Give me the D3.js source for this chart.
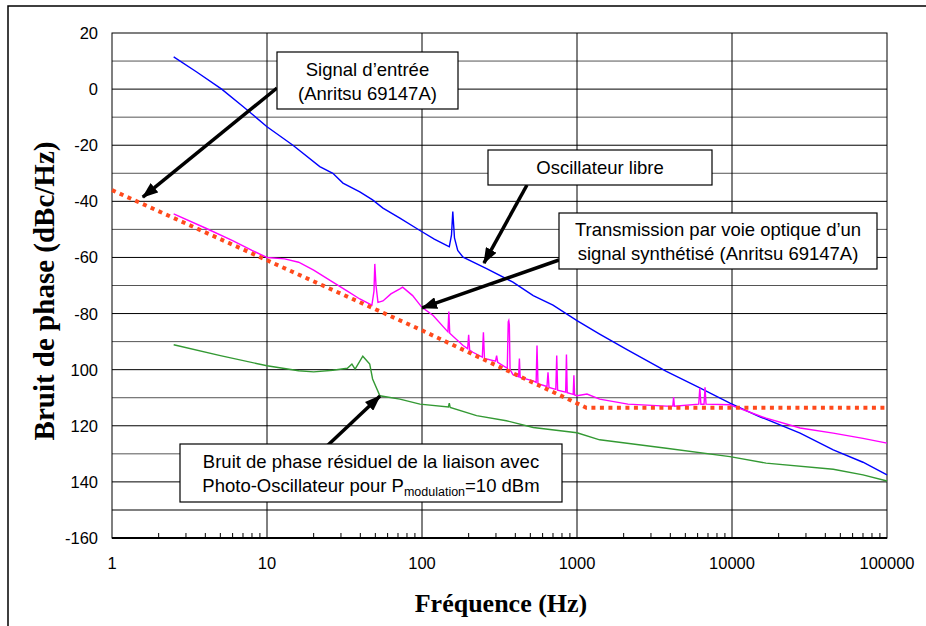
<!DOCTYPE html>
<html>
<head>
<meta charset="utf-8">
<script src="https://cdn.jsdelivr.net/npm/d3@7"></script>
<style>
  body { margin: 0; background: #fff; }
  svg { display: block; }
  .tick-label { font-family: "Liberation Sans", Arial, sans-serif; font-size: 16.5px; fill: #000; }
  .note { font-family: "Liberation Sans", Arial, sans-serif; font-size: 18.5px; fill: #000; }
  .axis-title { font-family: "Liberation Serif", "Times New Roman", serif; font-weight: bold; fill: #000; }
</style>
</head>
<body>
<div id="chart"></div>
<script>
// axis ticks
const yTicks = [20, 0, -20, -40, -60, -80, -100, -120, -140, -160];
const yTickLabels = ["20", "0", "-20", "-40", "-60", "-80", "100", "120", "140", "-160"];
const xTicks = [1, 10, 100, 1000, 10000, 100000];
const xTickLabels = ["1", "10", "100", "1000", "10000", "100000"];

// Signal d'entrée (Anritsu 69147A) - red dotted
const inputFreq  = [1, 10, 100, 316, 1000, 1150, 100000];
const inputNoise = [-36, -61, -86, -99, -112, -113.6, -113.6];

// Oscillateur libre - blue
const freeFreq  = [2.5, 3.5, 5.1, 7, 10, 14.7, 21.9, 26.6, 30.9, 39.7, 48, 56, 72, 97, 120, 144, 150, 155, 158, 162, 170, 184,
                   261, 386, 522, 700, 1000, 1400, 2130, 3770, 6200, 9700, 15000, 27500, 45000, 70000, 100000];
const freeNoise = [11.5, 6.2, 0, -6.2, -13.4, -20, -27.6, -30, -33.5, -36.6, -39.5, -42.4, -46, -50.4, -53.5, -55.7, -56.2, -52, -43.6, -53, -57.5, -59.9,
                   -64, -68.8, -73.6, -77, -82.5, -87.3, -93, -100.6, -106.5, -111.9, -116.7, -122.6, -128.6, -133, -137.5];

// Transmission par voie optique - magenta
const transFreq  = [2.5, 4, 6, 8, 10, 13, 16, 20, 26.6, 33, 39.7, 47.5, 49, 49.6, 50.5, 52, 56, 63, 72, 75, 87, 99.5, 118,
                    144, 147, 149, 151, 184, 197, 200, 203, 213, 245, 249, 253, 298, 303, 308, 355, 360, 363, 366, 370, 386,
                    420, 425, 430, 522, 545, 552, 560, 640, 650, 660, 730, 740, 750, 845, 855, 865, 945, 955, 965, 1000,
                    1160, 1400, 2130, 3770, 4150, 4200, 4250, 6100, 6200, 6300, 6600, 6700, 6800, 9700, 16600, 27500, 45000, 70000, 100000];
const transNoise = [-44.5, -49.5, -54, -57.5, -60, -60.5, -61.7, -64.5, -68.8, -72, -74.8, -77, -72, -62.3, -70, -76, -75.5, -73, -71.2, -70.6, -73.6, -77.7, -80.7,
                    -86, -86.5, -79.3, -87, -91.4, -92.5, -87.6, -93, -93.8, -95.5, -86.7, -96, -97, -95, -97.4, -99.5, -83, -82.5, -84, -100, -101.8,
                    -102.5, -96, -102.8, -104, -104.5, -91.4, -105, -106, -100.9, -106.3, -107, -95, -107.3, -108, -94.6, -108.2, -108.8, -102, -109, -109.3,
                    -108.7, -110.5, -112.3, -113, -113, -109.8, -113, -112.3, -106.5, -112.3, -112.3, -106.3, -112.3, -112.5, -117.3, -120.8, -122.6, -124.5, -126.2];

// Bruit de phase résiduel - green
const residFreq  = [2.5, 5, 10, 16, 20, 26.6, 33, 35.3, 37, 41.5, 46, 48, 53.5, 72, 97, 148, 150, 152, 225, 350, 522,
                    1000, 1400, 3770, 9700, 16600, 45000, 70000, 100000];
const residNoise = [-91.1, -95, -98.6, -100.4, -100.8, -100.2, -99.5, -98, -99.8, -95.2, -98, -103.3, -109.3, -110.5, -112.3, -113.3, -111.9, -113.5, -116.4, -118.2, -120.6,
                    -122.5, -125, -128, -131, -133.3, -135.5, -137.5, -139.7];

const width = 926, height = 626;
const plot = { left: 112, right: 887, top: 33, bottom: 538 };

const svg = d3.select("#chart").append("svg")
    .attr("width", width)
    .attr("height", height);

// outer frame (only top and left edges are visible)
svg.append("path")
    .attr("d", `M8,${height} L8,6 L${width},6`)
    .attr("fill", "none")
    .attr("stroke", "#000")
    .attr("stroke-width", 1.5);

const x = d3.scaleLog().domain([1, 100000]).range([plot.left, plot.right]);
const y = d3.scaleLinear().domain([-160, 20]).range([plot.bottom, plot.top]);

// horizontal grid every 10 dB
const gridVals = d3.range(-150, 20, 10);
svg.append("g")
    .selectAll("line")
    .data(gridVals)
    .join("line")
    .attr("x1", plot.left)
    .attr("x2", plot.right)
    .attr("y1", d => y(d))
    .attr("y2", d => y(d))
    .attr("stroke", d => d % 20 === 0 ? "#000" : (d === -150 ? "#808080" : "#555"))
    .attr("stroke-width", d => d === -150 ? 2 : 1);

// vertical grid at decades
svg.append("g")
    .selectAll("line")
    .data(xTicks.slice(1, -1))
    .join("line")
    .attr("x1", d => x(d))
    .attr("x2", d => x(d))
    .attr("y1", plot.top)
    .attr("y2", plot.bottom)
    .attr("stroke", "#000")
    .attr("stroke-width", 1);

// plot frame
svg.append("rect")
    .attr("x", plot.left)
    .attr("y", plot.top)
    .attr("width", plot.right - plot.left)
    .attr("height", plot.bottom - plot.top)
    .attr("fill", "none")
    .attr("stroke", "#000")
    .attr("stroke-width", 1);

// bottom axis with minor ticks pointing up
const minorTicks = x.ticks().filter(d => !xTicks.includes(d));
svg.append("line")
    .attr("x1", plot.left).attr("x2", plot.right)
    .attr("y1", plot.bottom).attr("y2", plot.bottom)
    .attr("stroke", "#000").attr("stroke-width", 2);
svg.append("g")
    .selectAll("line")
    .data(minorTicks)
    .join("line")
    .attr("x1", d => x(d)).attr("x2", d => x(d))
    .attr("y1", plot.bottom).attr("y2", plot.bottom - 5)
    .attr("stroke", "#000");

svg.append("g")
    .selectAll("text")
    .data(xTicks)
    .join("text")
    .attr("class", "tick-label")
    .attr("x", d => x(d))
    .attr("y", 569)
    .attr("text-anchor", "middle")
    .text((d, i) => xTickLabels[i]);

svg.append("g")
    .selectAll("text")
    .data(yTicks)
    .join("text")
    .attr("class", "tick-label")
    .attr("x", 98)
    .attr("y", d => y(d) + 6)
    .attr("text-anchor", "end")
    .text((d, i) => yTickLabels[i]);

// series
const line = d3.line().x(d => x(d[0])).y(d => y(d[1]));
const zip = (f, v) => f.map((d, i) => [d, v[i]]);

svg.append("path")
    .datum(zip(residFreq, residNoise))
    .attr("d", line)
    .attr("fill", "none")
    .attr("stroke", "#339933")
    .attr("stroke-width", 1.4);

svg.append("path")
    .datum(zip(freeFreq, freeNoise))
    .attr("d", line)
    .attr("fill", "none")
    .attr("stroke", "#0000ff")
    .attr("stroke-width", 1.4);

svg.append("path")
    .datum(zip(transFreq, transNoise))
    .attr("d", line)
    .attr("fill", "none")
    .attr("stroke", "#ff00ff")
    .attr("stroke-width", 1.4);

svg.append("path")
    .datum(zip(inputFreq, inputNoise))
    .attr("d", line)
    .attr("fill", "none")
    .attr("stroke", "#ff4a1c")
    .attr("stroke-width", 4)
    .attr("stroke-dasharray", "4,4.5");

// axis titles
svg.append("text")
    .attr("class", "axis-title")
    .attr("font-size", 29)
    .attr("transform", "translate(54,291) rotate(-90)")
    .attr("text-anchor", "middle")
    .text("Bruit de phase (dBc/Hz)");

svg.append("text")
    .attr("class", "axis-title")
    .attr("font-size", 26)
    .attr("x", 501)
    .attr("y", 612)
    .attr("text-anchor", "middle")
    .text("Fréquence (Hz)");

// annotations: box in pixels, arrow tip in data units
const notes = [
    { box: [277, 52, 181, 57], lines: ["Signal d’entrée", "(Anritsu 69147A)"], from: [277, 88], tip: [1.58, -38.5] },
    { box: [488, 150, 224, 35], lines: ["Oscillateur libre"], from: [527, 185], tip: [251, -62] },
    { box: [559, 213, 318, 56], lines: ["Transmission par voie optique d’un", "signal synthétisé (Anritsu 69147A)"], from: [559, 260], tip: [100, -78] },
    { box: [180, 444, 382, 58], lines: ["Bruit de phase résiduel de la liaison avec", null], from: [327, 446], tip: [53.6, -109.4] }
];

svg.append("defs").append("marker")
    .attr("id", "head")
    .attr("markerUnits", "userSpaceOnUse")
    .attr("viewBox", "0 0 16 12")
    .attr("markerWidth", 16)
    .attr("markerHeight", 12)
    .attr("refX", 15)
    .attr("refY", 6)
    .attr("orient", "auto")
    .append("path")
    .attr("d", "M0,0 L16,6 L0,12 Z")
    .attr("fill", "#000");

notes.forEach(n => {
    const [bx, by, bw, bh] = n.box;
    svg.append("line")
        .attr("x1", n.from[0]).attr("y1", n.from[1])
        .attr("x2", x(n.tip[0])).attr("y2", y(n.tip[1]))
        .attr("stroke", "#000")
        .attr("stroke-width", 3.5)
        .attr("marker-end", "url(#head)");
    svg.append("rect")
        .attr("x", bx).attr("y", by)
        .attr("width", bw).attr("height", bh)
        .attr("fill", "#fff")
        .attr("stroke", "#000")
        .attr("stroke-width", 1.2);
    const cx = bx + bw / 2;
    const first = by + bh / 2 + 6.5 - (n.lines.length - 1) * 11.5;
    n.lines.forEach((t, i) => {
        const txt = svg.append("text")
            .attr("class", "note")
            .attr("x", cx)
            .attr("y", first + i * 24)
            .attr("text-anchor", "middle");
        if (t !== null) {
            txt.text(t);
        } else {
            txt.append("tspan").text("Photo-Oscillateur pour P");
            txt.append("tspan").attr("font-size", 12.5).attr("dy", 4).text("modulation");
            txt.append("tspan").attr("dy", -4).text("=10 dBm");
        }
    });
});
</script>
</body>
</html>
